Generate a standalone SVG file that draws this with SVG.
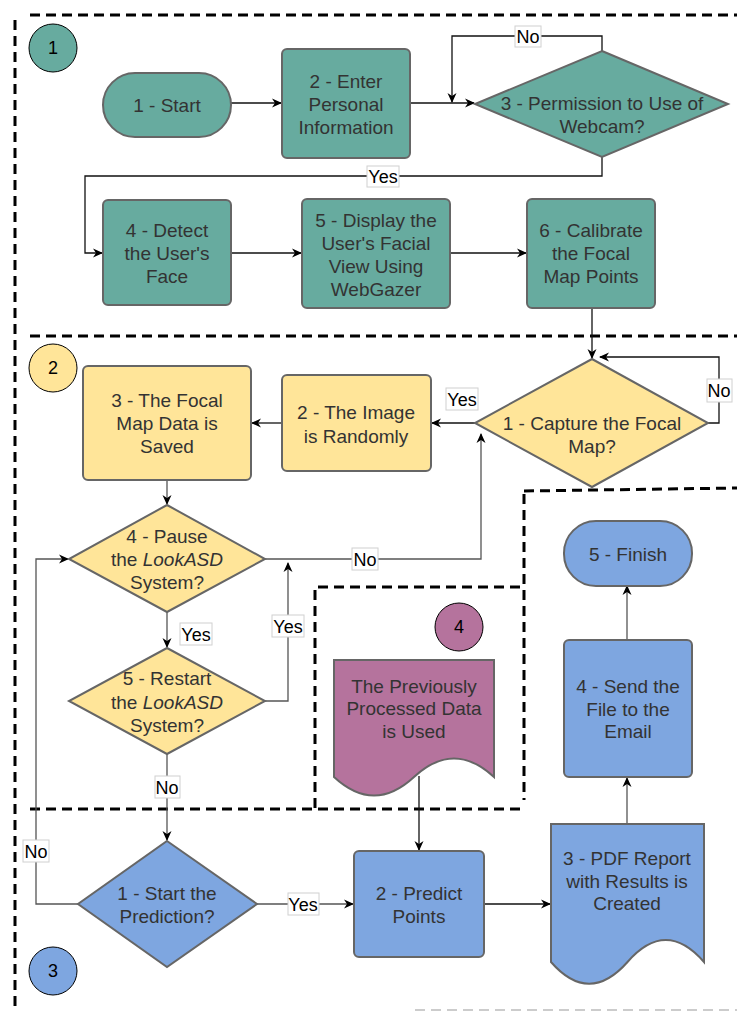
<svg xmlns="http://www.w3.org/2000/svg" width="737" height="1012" viewBox="0 0 737 1012">
<defs>
<marker id="arr" viewBox="0 0 10 10" refX="9" refY="5" markerWidth="10" markerHeight="10" markerUnits="userSpaceOnUse" orient="auto">
<path d="M0,0.5 L10,5 L0,9.5 L3,5 Z" fill="#000"/>
</marker>
<style>
.dash{fill:none;stroke:#000;stroke-width:3;stroke-dasharray:10 6}
.node{stroke:#666;stroke-width:2}
.teal{fill:#67AB9F}
.yel{fill:#FFE599}
.pur{fill:#B5739D}
.blu{fill:#7EA6E0}
.t{font-family:"Liberation Sans",Arial,sans-serif;font-size:19px;fill:#333;text-anchor:middle}
.num{font-family:"Liberation Sans",Arial,sans-serif;font-size:18px;fill:#000;text-anchor:middle}
.lbl{font-family:"Liberation Sans",Arial,sans-serif;font-size:18px;fill:#000;text-anchor:middle}
.lb{fill:#fff;stroke:#d0d0d0;stroke-width:1}
.c{fill:none;stroke:#111;stroke-width:1.3}
.cg{fill:none;stroke:#555;stroke-width:1.3}
</style>
</defs>

<g id="sections">
<line class="dash" x1="30" y1="15" x2="737" y2="15"/>
<line class="dash" x1="15" y1="20" x2="15" y2="1012"/>
<line class="dash" x1="30" y1="336" x2="737" y2="336"/>
<line class="dash" x1="30" y1="809" x2="520" y2="809"/>
<line class="dash" x1="315" y1="590" x2="315" y2="809"/>
<line class="dash" x1="318" y1="587" x2="520" y2="587"/>
<line class="dash" x1="524" y1="494" x2="524" y2="800"/>
<line class="dash" x1="524" y1="491" x2="737" y2="488"/>
<line x1="415" y1="1010" x2="737" y2="1010" stroke="#ccc" stroke-width="2" stroke-dasharray="10 6"/>
</g>

<g id="connectors">
<path class="c" d="M231,103 H281" marker-end="url(#arr)"/>
<path class="c" d="M410,103 H474" marker-end="url(#arr)"/>
<path class="c" d="M602,51 V36 H452 V102" marker-end="url(#arr)"/>
<path class="c" d="M602,157 V176 H85 V253 H102" marker-end="url(#arr)"/>
<path class="c" d="M231,253 H301" marker-end="url(#arr)"/>
<path class="c" d="M450,253 H526" marker-end="url(#arr)"/>
<path class="c" d="M592,308 V358" marker-end="url(#arr)"/>
<path class="c" d="M708,423 H719 V357 H600" marker-end="url(#arr)"/>
<path class="c" d="M475,423 H432" marker-end="url(#arr)"/>
<path class="c" d="M282,423 H252" marker-end="url(#arr)"/>
<path class="cg" d="M167,480 V504" marker-end="url(#arr)"/>
<path class="cg" d="M265,559 H481 V434" marker-end="url(#arr)"/>
<path class="cg" d="M167,612 V647" marker-end="url(#arr)"/>
<path class="cg" d="M265,701 H288 V563" marker-end="url(#arr)"/>
<path class="cg" d="M167,754 V840" marker-end="url(#arr)"/>
<path class="cg" d="M78,904 H36 V559 H68" marker-end="url(#arr)"/>
<path class="cg" d="M257,904 H353" marker-end="url(#arr)"/>
<path class="c" d="M419,776 V850" marker-end="url(#arr)"/>
<path class="c" d="M484,904 H550" marker-end="url(#arr)"/>
<path class="cg" d="M627,824 V778" marker-end="url(#arr)"/>
<path class="cg" d="M627,640 V586" marker-end="url(#arr)"/>
<rect class="lb" x="515" y="26" width="26" height="21"/><text class="lbl" x="528" y="43">No</text>
<rect class="lb" x="367" y="166" width="32" height="21"/><text class="lbl" x="383" y="183">Yes</text>
<rect class="lb" x="446" y="388" width="32" height="22"/><text class="lbl" x="462" y="406">Yes</text>
<rect class="lb" x="707" y="379" width="25" height="23"/><text class="lbl" x="719" y="397">No</text>
<rect class="lb" x="352" y="548" width="26" height="22"/><text class="lbl" x="365" y="566">No</text>
<rect class="lb" x="180" y="623" width="32" height="22"/><text class="lbl" x="196" y="641">Yes</text>
<rect class="lb" x="272" y="615" width="32" height="22"/><text class="lbl" x="288" y="633">Yes</text>
<rect class="lb" x="155" y="776" width="25" height="22"/><text class="lbl" x="167" y="794">No</text>
<rect class="lb" x="23" y="840" width="26" height="22"/><text class="lbl" x="36" y="858">No</text>
<rect class="lb" x="288" y="893" width="31" height="22"/><text class="lbl" x="303" y="911">Yes</text>
</g>

<g id="badge1"><circle cx="53" cy="48" r="24" class="teal" stroke="#000" stroke-width="1"/><text class="num" x="53" y="54">1</text></g>
<g id="badge2"><circle cx="53" cy="368" r="24" class="yel" stroke="#000" stroke-width="1"/><text class="num" x="53" y="374">2</text></g>
<g id="badge3"><circle cx="53" cy="971" r="24" class="blu" stroke="#000" stroke-width="1"/><text class="num" x="53" y="977">3</text></g>
<g id="badge4"><circle cx="459" cy="627" r="24" class="pur" stroke="#000" stroke-width="1"/><text class="num" x="459" y="633">4</text></g>

<g id="s1-start"><rect class="node teal" x="103" y="73" width="128" height="64" rx="32"/><text class="t" x="167" y="112">1 - Start</text></g>
<g id="s1-enter"><rect class="node teal" x="282" y="49" width="128" height="109" rx="5"/>
<text class="t" x="346" y="88">2 - Enter</text><text class="t" x="346" y="111">Personal</text><text class="t" x="346" y="134">Information</text></g>
<g id="s1-permission"><polygon class="node teal" points="602,51 728,104 602,157 475,104"/>
<text class="t" x="602" y="110">3 - Permission to Use of</text><text class="t" x="602" y="133">Webcam?</text></g>
<g id="s1-detect"><rect class="node teal" x="103" y="200" width="128" height="105" rx="5"/>
<text class="t" x="167" y="237">4 - Detect</text><text class="t" x="167" y="260">the User's</text><text class="t" x="167" y="283">Face</text></g>
<g id="s1-display"><rect class="node teal" x="302" y="199" width="148" height="109" rx="5"/>
<text class="t" x="376" y="227">5 - Display the</text><text class="t" x="376" y="250">User's Facial</text><text class="t" x="376" y="273">View Using</text><text class="t" x="376" y="296">WebGazer</text></g>
<g id="s1-calibrate"><rect class="node teal" x="527" y="199" width="128" height="109" rx="5"/>
<text class="t" x="591" y="237">6 - Calibrate</text><text class="t" x="591" y="260">the Focal</text><text class="t" x="591" y="283">Map Points</text></g>

<g id="s2-capture"><polygon class="node yel" points="592,359 708,423 592,487 475,423"/>
<text class="t" x="592" y="430">1 - Capture the Focal</text><text class="t" x="592" y="453">Map?</text></g>
<g id="s2-image"><rect class="node yel" x="282" y="375" width="149" height="96" rx="5"/>
<text class="t" x="356" y="419">2 - The Image</text><text class="t" x="356" y="443">is Randomly</text></g>
<g id="s2-saved"><rect class="node yel" x="83" y="366" width="168" height="114" rx="5"/>
<text class="t" x="167" y="407">3 - The Focal</text><text class="t" x="167" y="430">Map Data is</text><text class="t" x="167" y="453">Saved</text></g>
<g id="s2-pause"><polygon class="node yel" points="167,505 265,559 167,612 69,559"/>
<text class="t" x="167" y="543">4 - Pause</text><text class="t" x="167" y="566">the <tspan font-style="italic">LookASD</tspan></text><text class="t" x="167" y="589">System?</text></g>
<g id="s2-restart"><polygon class="node yel" points="167,648 265,701 167,754 69,701"/>
<text class="t" x="167" y="685">5 - Restart</text><text class="t" x="167" y="709">the <tspan font-style="italic">LookASD</tspan></text><text class="t" x="167" y="732">System?</text></g>

<g id="s4-data"><path class="node pur" d="M334,660 H494 V777 Q454,740 414,777 Q374,814 334,777 Z"/>
<text class="t" x="414" y="693">The Previously</text><text class="t" x="414" y="715">Processed Data</text><text class="t" x="414" y="738">is Used</text></g>

<g id="s3-start"><polygon class="node blu" points="167,841 257,904 167,967 78,904"/>
<text class="t" x="167" y="900">1 - Start the</text><text class="t" x="167" y="923">Prediction?</text></g>
<g id="s3-predict"><rect class="node blu" x="354" y="851" width="130" height="106" rx="5"/>
<text class="t" x="419" y="900">2 - Predict</text><text class="t" x="419" y="923">Points</text></g>
<g id="s3-pdf"><path class="node blu" d="M551,824 H704 V962 Q665.75,918 627.5,962 Q589,1005.5 551,962 Z"/>
<text class="t" x="627" y="865">3 - PDF Report</text><text class="t" x="627" y="888">with Results is</text><text class="t" x="627" y="910">Created</text></g>
<g id="s3-send"><rect class="node blu" x="564" y="640" width="128" height="137" rx="5"/>
<text class="t" x="628" y="693">4 - Send the</text><text class="t" x="628" y="716">File to the</text><text class="t" x="628" y="738">Email</text></g>
<g id="s3-finish"><rect class="node blu" x="564" y="521" width="128" height="65" rx="32"/><text class="t" x="628" y="561">5 - Finish</text></g>
</svg>
